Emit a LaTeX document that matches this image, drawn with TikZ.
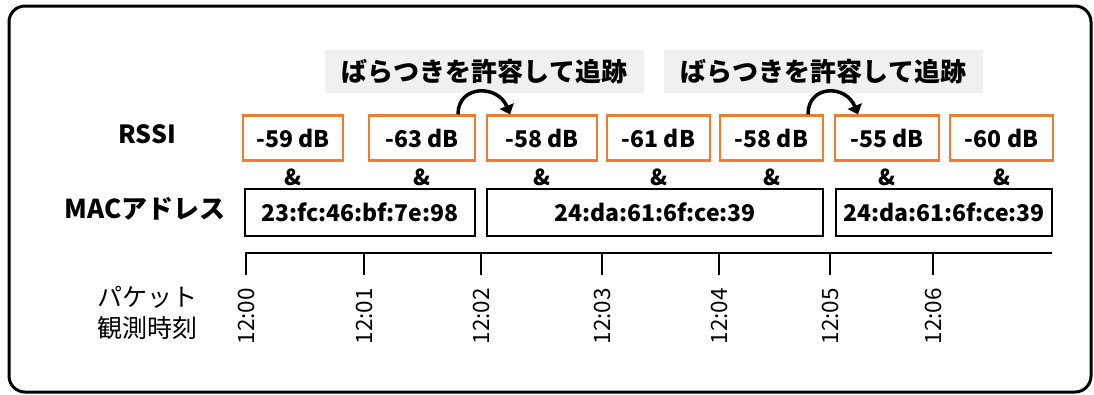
\documentclass[tikz,border=0pt]{standalone}
\usepackage{fontspec}
\setmainfont{Noto Sans CJK JP}
\usetikzlibrary{arrows.meta}
\definecolor{rssiorange}{HTML}{ED7D31}
\definecolor{notegray}{HTML}{F0F0F0}
\begin{document}
\begin{tikzpicture}[x=1pt,y=-1pt,
  rssibox/.style={draw=rssiorange,line width=2.2pt,minimum height=45pt,inner sep=0pt,font=\fontsize{23}{27}\selectfont\bfseries},
  macbox/.style={draw=black,line width=2.2pt,minimum height=47pt,inner sep=0pt,font=\fontsize{23}{27}\selectfont\bfseries},
  amp/.style={inner sep=0pt,font=\fontsize{22}{26}\selectfont\bfseries},
  rowlabel/.style={inner sep=0pt,font=\fontsize{25}{30}\selectfont\bfseries},
  sidelabel/.style={inner sep=0pt,align=center,font=\fontsize{25}{31}\selectfont},
  note/.style={fill=notegray,minimum width=319pt,minimum height=43pt,inner sep=0pt,font=\fontsize{26}{30}\selectfont\bfseries},
  timelabel/.style={rotate=90,anchor=east,inner sep=0pt,font=\fontsize{22.5}{26}\selectfont},
  axis/.style={line width=1.6pt},
  jump/.style={line width=3.5pt,-{Triangle[length=9pt,width=15pt]}},
  frame/.style={line width=3pt,rounded corners=16pt}
]
\useasboundingbox (0,0) rectangle (1094,394);
\draw[frame] (9,6) rectangle (1091,392);

% notes
\node[note] (n1) at (484.5,71.5) {ばらつきを許容して追跡};
\node[note] (n2) at (823.5,71.5) {ばらつきを許容して追跡};

% row labels
\node[rowlabel] (lrssi) at (147,134) {RSSI};
\node[rowlabel,font=\fontsize{26}{30}\selectfont\bfseries] (lmac) at (145,209) {MACアドレス};
\node[sidelabel] (lpkt) at (147,312.5) {パケット\\観測時刻};

% RSSI boxes
\node[rssibox,minimum width=100pt] (r1) at (293,138) {-59 dB};
\node[rssibox,minimum width=106pt] (r2) at (422,138) {-63 dB};
\node[rssibox,minimum width=110pt] (r3) at (542,138) {-58 dB};
\node[rssibox,minimum width=103pt] (r4) at (658.5,138) {-61 dB};
\node[rssibox,minimum width=103pt] (r5) at (771.5,138) {-58 dB};
\node[rssibox,minimum width=104pt] (r6) at (887,138) {-55 dB};
\node[rssibox,minimum width=103pt] (r7) at (1001.5,138) {-60 dB};

% ampersands
\coordinate (ampline) at (0,177);
\foreach \i in {1,...,7}{
  \node[amp] (amp\i) at (r\i |- ampline) {\&};
}

% MAC boxes
\node[macbox,minimum width=230pt] (m1) at (360,212.5) {23:fc:46:bf:7e:98};
\node[macbox,minimum width=336pt] (m2) at (655,212.5) {24:da:61:6f:ce:39};
\node[macbox,minimum width=216pt] (m3) at (944,212.5) {24:da:61:6f:ce:39};

% jump arrows
\draw[jump] ([xshift=36pt]r2.north) .. controls ([xshift=36pt,yshift=30pt]r2.north) and ([xshift=-44pt,yshift=30pt]r3.north) .. ([xshift=-32pt]r3.north);
\draw[jump] ([xshift=36.5pt]r5.north) .. controls ([xshift=36.5pt,yshift=30pt]r5.north) and ([xshift=-41pt,yshift=30pt]r6.north) .. ([xshift=-29pt]r6.north);

% timeline
\coordinate (ax0) at (245,253);
\coordinate (ax1) at (1052,253);
\draw[axis] (ax0) -- (ax1);
\foreach \x/\t [count=\k from 0] in {246/12:00,364/12:01,481/12:02,602/12:03,719/12:04,830/12:05,933/12:06}{
  \coordinate (tk\k) at (\x,253);
  \coordinate (tb\k) at (\x,275);
  \draw[axis] (tk\k) -- (tb\k);
  \node[timelabel] (tl\k) at (\x,288) {\t};
}
\end{tikzpicture}
\end{document}
